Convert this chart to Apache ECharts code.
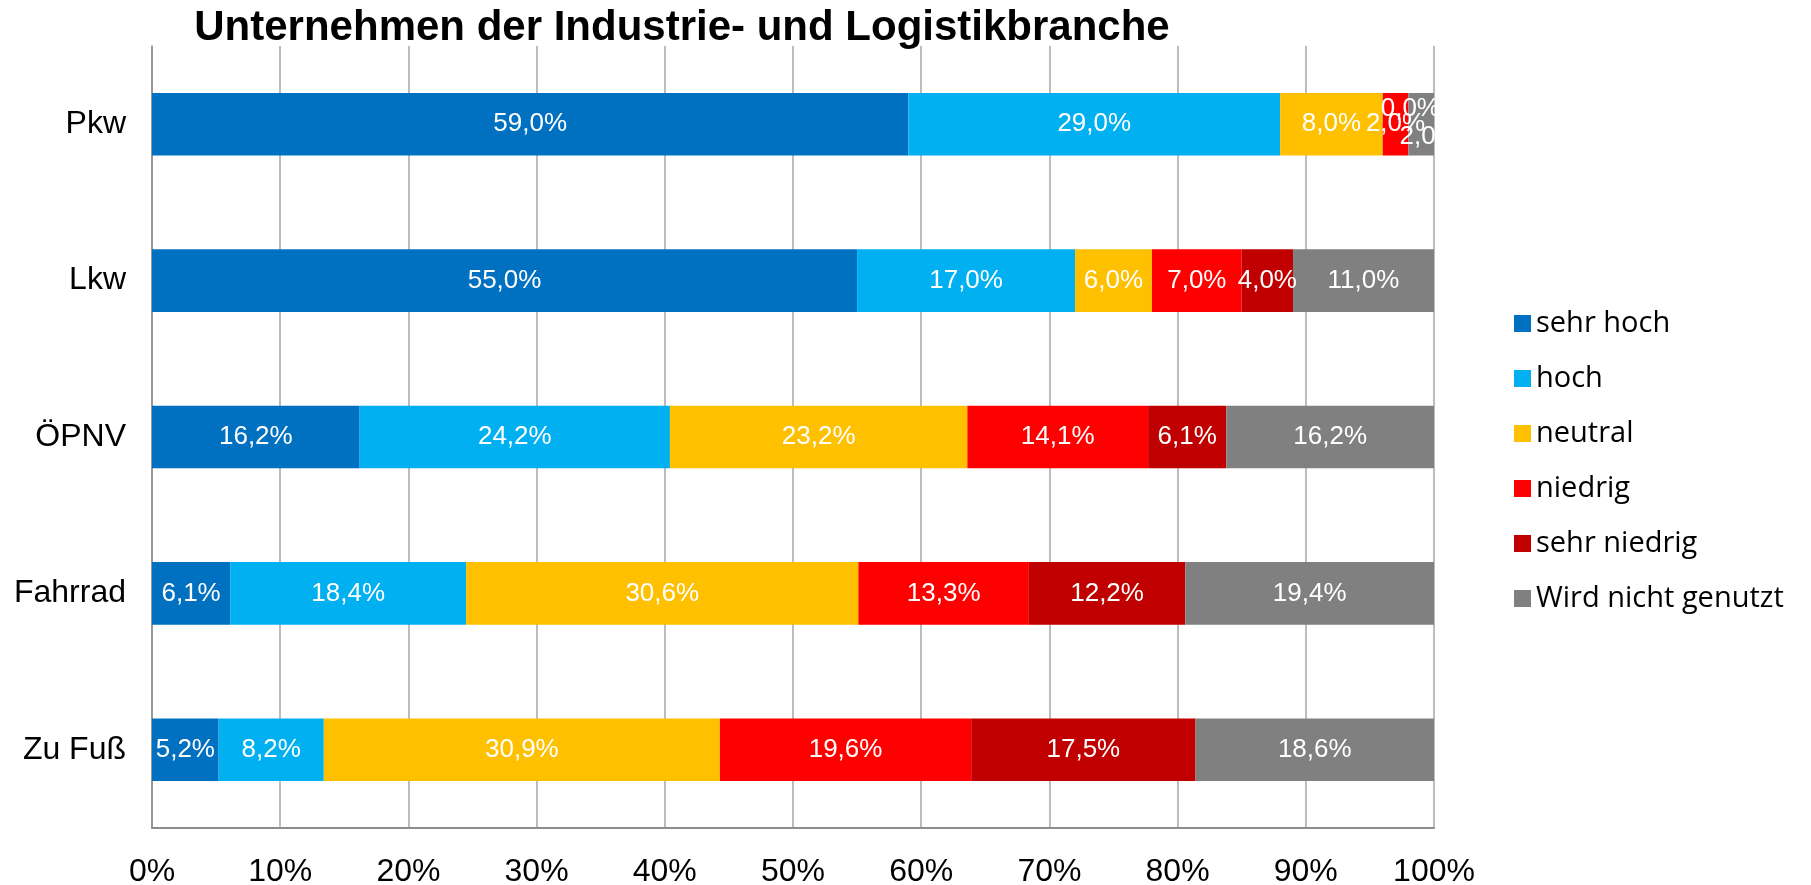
<!DOCTYPE html>
<html>
<head>
<meta charset="utf-8">
<script src="https://cdn.jsdelivr.net/npm/echarts@6/dist/echarts.min.js"></script>
<style>
  html, body { margin: 0; padding: 0; background: #fff; }
  #chart { width: 1811px; height: 885px; }
</style>
</head>
<body>
<div id="chart"></div>
<script>
// Kategorien (von oben nach unten)
const categories = ['Pkw', 'Lkw', 'ÖPNV', 'Fahrrad', 'Zu Fuß'];
const seriesNames = ['sehr hoch', 'hoch', 'neutral', 'niedrig', 'sehr niedrig', 'Wird nicht genutzt'];
const colors = ['#0070C0', '#00B0F0', '#FFC000', '#FF0000', '#C00000', '#808080'];

// Werte in % je Kategorie
const sehrHoch = [59.0, 55.0, 16.2, 6.1, 5.2];
const hoch = [29.0, 17.0, 24.2, 18.4, 8.2];
const neutral = [8.0, 6.0, 23.2, 30.6, 30.9];
const niedrig = [2.0, 7.0, 14.1, 13.3, 19.6];
const sehrNiedrig = [0.0, 4.0, 6.1, 12.2, 17.5];
const nichtGenutzt = [2.0, 11.0, 16.2, 19.4, 18.6];

const xTicks = ['0%', '10%', '20%', '30%', '40%', '50%', '60%', '70%', '80%', '90%', '100%'];

const allValues = [sehrHoch, hoch, neutral, niedrig, sehrNiedrig, nichtGenutzt];

const chart = echarts.init(document.getElementById('chart'));

// kleine Segmente beim Pkw: Beschriftung verschoben wie im Original
const labelShift = {
  '0-4': [2, -15],
  '0-5': [8, 13]
};

const series = allValues.map(function (vals, s) {
  return {
    name: seriesNames[s],
    type: 'bar',
    stack: 'total',
    barCategoryGap: '60%',
    itemStyle: { color: colors[s] },
    label: {
      show: true,
      position: 'inside',
      color: '#fff',
      fontFamily: 'Liberation Sans',
      fontSize: 26,
      formatter: function (p) {
        return p.value.toFixed(1).replace('.', ',') + '%';
      }
    },
    data: vals.map(function (v, i) {
      const key = i + '-' + s;
      if (labelShift[key]) {
        return { value: v, label: { offset: labelShift[key] } };
      }
      return v;
    })
  };
});

const option = {
  animation: false,
  title: {
    text: 'Unternehmen der Industrie- und Logistikbranche',
    left: 677,
    textAlign: 'center',
    top: 2,
    textStyle: {
      fontFamily: 'Liberation Sans',
      fontWeight: 'bold',
      fontSize: 42,
      color: '#000'
    }
  },
  legend: {
    orient: 'vertical',
    left: 1509,
    top: 304,
    icon: 'rect',
    itemWidth: 17,
    itemHeight: 17,
    itemGap: 26,
    data: seriesNames,
    textStyle: {
      fontFamily: 'Open Sans',
      fontSize: 29,
      color: '#000'
    }
  },
  grid: {
    left: 152,
    right: 377,
    top: 46,
    bottom: 57,
    containLabel: false,
    outerBoundsMode: 'none'
  },
  xAxis: {
    type: 'value',
    min: 0,
    max: 100,
    interval: 10,
    axisLine: { show: true, lineStyle: { color: '#8c8c8c', width: 2 } },
    axisTick: { show: false },
    splitLine: { show: true, lineStyle: { color: '#a6a6a6', width: 1.5 } },
    axisLabel: {
      margin: 28,
      fontFamily: 'Liberation Sans',
      fontSize: 32,
      color: '#000',
      formatter: function (v) { return xTicks[Math.round(v / 10)]; }
    }
  },
  yAxis: {
    type: 'category',
    inverse: true,
    data: categories,
    axisLine: { show: true, lineStyle: { color: '#8c8c8c', width: 1.5 } },
    axisTick: { show: false },
    axisLabel: {
      margin: 26,
      fontFamily: 'Liberation Sans',
      fontSize: 32,
      color: '#000'
    }
  },
  series: series
};

chart.setOption(option);
</script>
</body>
</html>
